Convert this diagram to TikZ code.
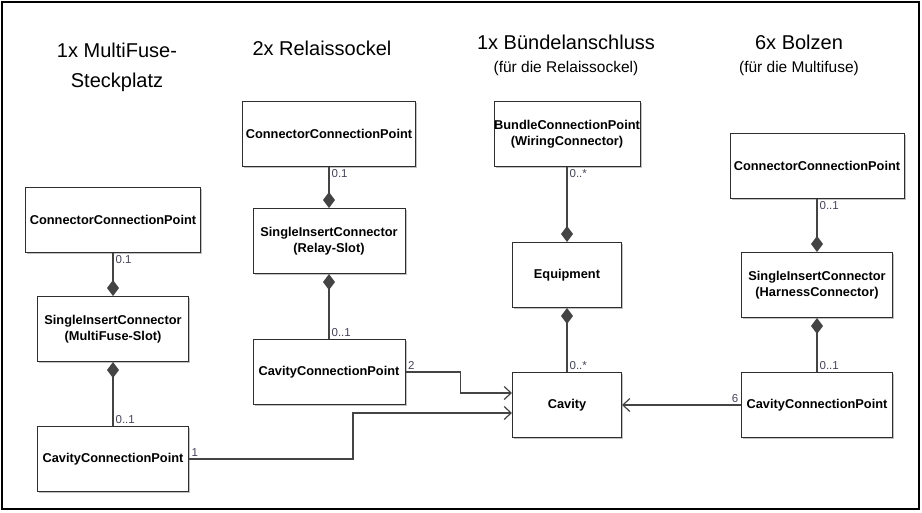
\documentclass[tikz,border=0pt]{standalone}
\usepackage{fontspec}
\setmainfont{Liberation Sans}
\usetikzlibrary{arrows.meta}
\usetikzlibrary{shadows}
\usetikzlibrary{calc}

\definecolor{boxline}{HTML}{2E2E2E}
\definecolor{wire}{HTML}{444444}
\definecolor{multtext}{HTML}{45455A}

\begin{document}
\begin{tikzpicture}[x=1pt,y=-1pt,
    klasse/.style={draw=boxline,fill=white,line width=1pt,minimum height=65pt,inner sep=0pt,align=center,
      font=\fontsize{12.8}{16}\selectfont\bfseries,
      drop shadow={shadow xshift=1.5pt,shadow yshift=-1.5pt,fill=black!40,opacity=0.6}},
    komposition/.style={draw=wire,line width=1.3pt},
    navig/.style={draw=wire,line width=1.3pt,-{Straight Barb[length=7pt,width=13pt,line width=1.2pt]}},
    mult/.style={font=\fontsize{11.5}{13}\selectfont,text=multtext,inner sep=2pt},
    titel/.style={font=\fontsize{20}{30}\selectfont,align=center},
    untertitel/.style={font=\fontsize{15.5}{18}\selectfont}]
      \useasboundingbox (0,0) rectangle (922,512);
      \draw[line width=2pt] (2,2) rectangle (919,509);

      \node[titel] (titelA) at (117,67) {1x MultiFuse-\\Steckplatz};
      \node[titel] (titelB) at (322,48) {2x Relaissockel};
      \node[titel] (titelC) at (566,42) {1x Bündelanschluss};
      \node[untertitel] (untertitelC) at (566,68) {(für die Relaissockel)};
      \node[titel] (titelD) at (799,42) {6x Bolzen};
      \node[untertitel] (untertitelD) at (799,68) {(für die Multifuse)};

      \node[klasse,minimum width=175pt] (ccpA) at (113,220) {ConnectorConnectionPoint};
      \node[klasse,minimum width=151pt] (sicA) at (113,329) {SingleInsertConnector\\(MultiFuse-Slot)};
      \node[klasse,minimum width=151pt] (cavA) at (113,459) {CavityConnectionPoint};

      \node[klasse,minimum width=173pt] (ccpB) at (329,134) {ConnectorConnectionPoint};
      \node[klasse,minimum width=152pt] (sicB) at (329,241) {SingleInsertConnector\\(Relay-Slot)};
      \node[klasse,minimum width=152pt] (cavB) at (329,372) {CavityConnectionPoint};

      \node[klasse,minimum width=146pt] (bcp) at (567,134) {BundleConnectionPoint\\(WiringConnector)};
      \node[klasse,minimum width=109pt] (equip) at (567,275) {Equipment};
      \node[klasse,minimum width=109pt] (cavity) at (567,405) {Cavity};

      \node[klasse,minimum width=174pt] (ccpD) at (817,166) {ConnectorConnectionPoint};
      \node[klasse,minimum width=151pt] (sicD) at (817,285) {SingleInsertConnector\\(HarnessConnector)};
      \node[klasse,minimum width=151pt] (cavD) at (817,405) {CavityConnectionPoint};

      \draw[komposition,-{Diamond[length=16pt,width=12pt]}] (ccpA) -- node[mult,pos=0,anchor=north west]{0.1} (sicA);
      \draw[komposition,{Diamond[length=16pt,width=12pt]}-] (sicA) -- node[mult,pos=1,anchor=south west]{0..1} (cavA);
      \draw[komposition,-{Diamond[length=16pt,width=12pt]}] (ccpB) -- node[mult,pos=0,anchor=north west]{0.1} (sicB);
      \draw[komposition,{Diamond[length=16pt,width=12pt]}-] (sicB) -- node[mult,pos=1,anchor=south west]{0..1} (cavB);
      \draw[komposition,-{Diamond[length=16pt,width=12pt]}] (bcp) -- node[mult,pos=0,anchor=north west]{0..*} (equip);
      \draw[komposition,{Diamond[length=16pt,width=12pt]}-] (equip) -- node[mult,pos=1,anchor=south west]{0..*} (cavity);
      \draw[komposition,-{Diamond[length=16pt,width=12pt]}] (ccpD) -- node[mult,pos=0,anchor=north west]{0..1} (sicD);
      \draw[komposition,{Diamond[length=16pt,width=12pt]}-] (sicD) -- node[mult,pos=1,anchor=south west]{0..1} (cavD);

      \draw[navig] (cavB.east) -- node[mult,pos=0,anchor=south west]{2} ++(55,0) |- ([yshift=12pt]cavity.west);
      \draw[navig] (cavA.east) -- node[mult,pos=0,anchor=south west]{1} ++(164,0) |- ([yshift=-8pt]cavity.west);
      \draw[navig] (cavD.west) -- node[mult,pos=0,anchor=south east]{6} (cavity.east);
    \end{tikzpicture}
\end{document}
